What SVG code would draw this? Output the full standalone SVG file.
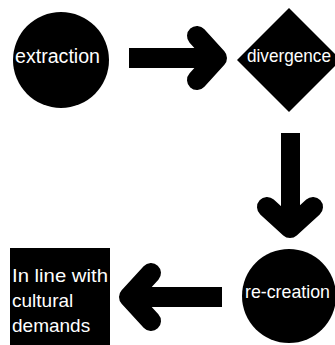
<svg xmlns="http://www.w3.org/2000/svg" width="335" height="345" viewBox="0 0 335 345">
<style>
.shape{fill:#000}
.lbl{fill:#fff;font-family:"Liberation Sans","Noto Sans",Arial,sans-serif}
.shaft{fill:#000}
.head{fill:none;stroke:#000;stroke-width:20;stroke-linecap:round;stroke-linejoin:round}
</style>
<rect width="335" height="345" fill="#fff"/>
<g id="connectors">
  <g id="arrow-extraction-divergence">
    <rect class="shaft" x="129" y="48" width="82" height="20"/>
    <polyline class="head" points="197,36 217,58 197,80"/>
  </g>
  <g id="arrow-divergence-recreation">
    <rect class="shaft" x="281" y="133" width="19" height="85"/>
    <polyline class="head" points="267,207 290,228 313,207"/>
  </g>
  <g id="arrow-recreation-demands">
    <rect class="shaft" x="136" y="287" width="86" height="20"/>
    <polyline class="head" points="151,273 129,297 151,321"/>
  </g>
</g>
<g id="node-extraction">
  <circle class="shape" cx="61" cy="60" r="48"/>
  <text class="lbl" x="15" y="63" font-size="20" textLength="85" lengthAdjust="spacingAndGlyphs">extraction</text>
</g>
<g id="node-divergence">
  <polygon class="shape" points="289,8 341,60 289,112 237,60"/>
  <text class="lbl" x="247" y="62" font-size="19" textLength="84" lengthAdjust="spacingAndGlyphs">divergence</text>
</g>
<g id="node-recreation">
  <circle class="shape" cx="289" cy="296" r="47"/>
  <text class="lbl" x="245" y="298" font-size="19" textLength="85" lengthAdjust="spacingAndGlyphs">re-creation</text>
</g>
<g id="node-demands">
  <rect class="shape" x="10" y="248" width="100" height="97"/>
  <text class="lbl" font-size="19">
    <tspan x="12" y="282" textLength="96" lengthAdjust="spacingAndGlyphs">In line with</tspan>
    <tspan x="12" y="307">cultural</tspan>
    <tspan x="12" y="332">demands</tspan>
  </text>
</g>
</svg>
